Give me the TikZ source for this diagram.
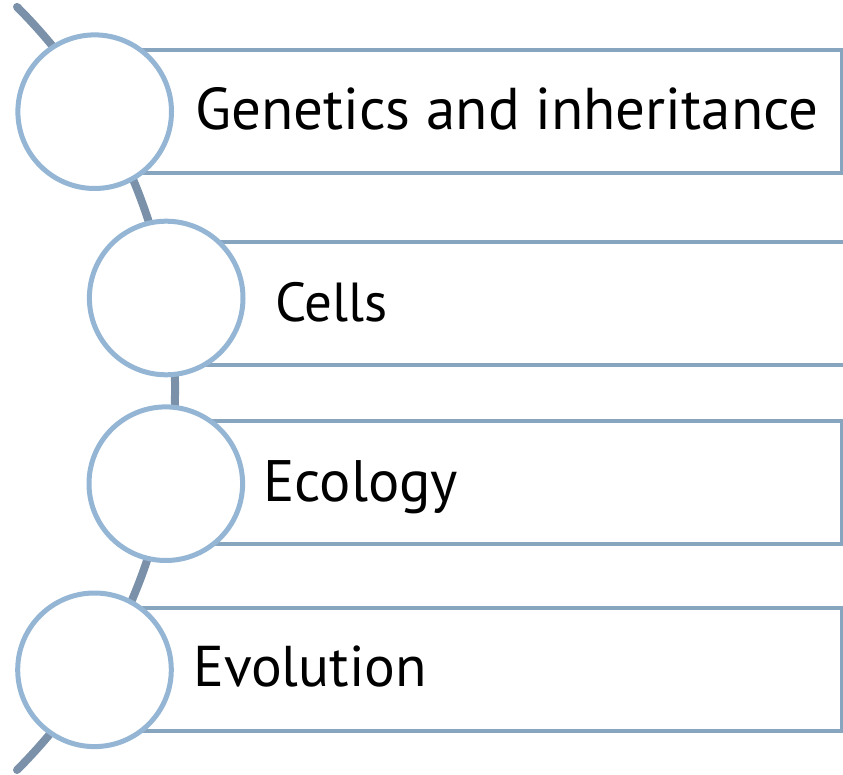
\documentclass[tikz,border=0pt]{standalone}
\usepackage{fontspec}
\setmainfont{PT Sans}[Ligatures=NoCommon]
\usepackage{tikz}
\definecolor{spine}{HTML}{7A91A9}
\definecolor{ringblue}{HTML}{94B6D4}
\definecolor{boxblue}{HTML}{88A5C0}
\tikzstyle{bubble} = [circle, draw=ringblue, line width=5pt, fill=white, minimum size=153.6pt, inner sep=0pt]
\tikzstyle{banner} = [rectangle, draw=boxblue, line width=4.5pt, fill=white, minimum height=123pt, inner sep=0pt, anchor=west]
\tikzstyle{topic} = [anchor=base west, inner sep=0pt, text=black]
\begin{document}
\begin{tikzpicture}[x=1pt, y=-1pt]
	\useasboundingbox (0,0) rectangle (843,775);
	\coordinate (arcTop) at (17,6.9);
	\draw[spine, line width=8pt, line cap=round] (arcTop) arc[start angle=-45, end angle=45, radius=539.6];
	\node[banner, minimum width=744.8pt] (genBox) at (94.7,111.7) {};
	\node[banner, minimum width=700pt] (cellBox) at (166.2,303.7) {};
	\node[banner, minimum width=674.2pt] (ecoBox) at (165.8,482.5) {};
	\node[banner, minimum width=745.5pt] (evoBox) at (94.5,669.3) {};
	\node[bubble] (genDot) at (94.7,111.7) {};
	\node[bubble] (cellDot) at (166.2,298) {};
	\node[bubble] (ecoDot) at (165.8,483.7) {};
	\node[bubble] (evoDot) at (94.5,669.8) {};
	\node[topic, font=\fontsize{59}{69}\selectfont] (genTxt) at (195,130) {Genetics and inheritance};
	\node[topic, font=\fontsize{55}{65}\selectfont] (cellTxt) at (275,321.7) {Cells};
	\node[topic, font=\fontsize{58.5}{68}\selectfont] (ecoTxt) at (263,501.7) {Ecology};
	\node[topic, font=\fontsize{57.5}{67}\selectfont] (evoTxt) at (193,686.7) {Evolution};
\end{tikzpicture}
\end{document}
